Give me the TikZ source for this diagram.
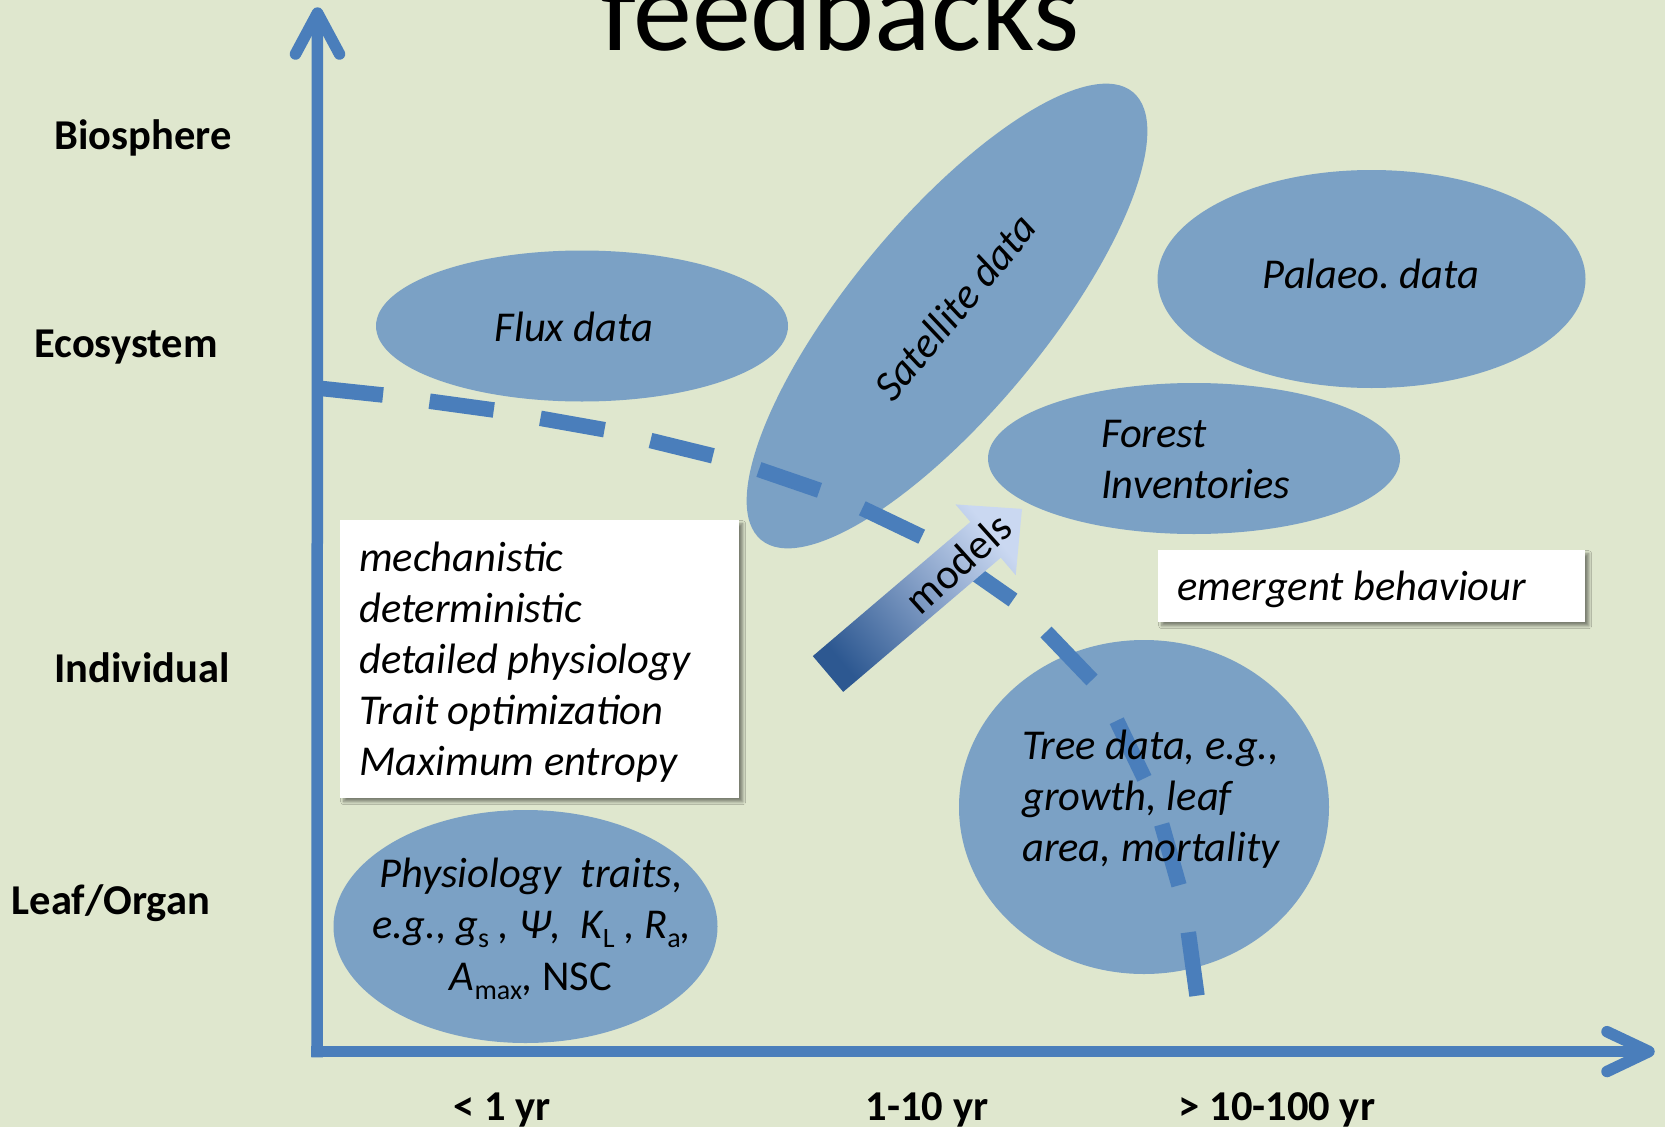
\documentclass[tikz,border=0pt]{standalone}
\usepackage{fontspec}
\setmainfont{Carlito}
\usetikzlibrary{shadows.blur}

\definecolor{bg}{RGB}{223,231,206}
\definecolor{blob}{RGB}{123,161,197}
\definecolor{axisblue}{RGB}{74,126,187}
\definecolor{arrowdark}{RGB}{45,88,145}
\definecolor{arrowlight}{RGB}{202,216,241}

% small upright index set below the baseline
\newcommand{\lowidx}[1]{\raisebox{-0.22em}{\upshape\fontsize{28}{28}\selectfont #1}}

\begin{document}
\frenchspacing
\begin{tikzpicture}[x=1pt,y=-1pt,
  axisline/.style={draw=axisblue, line width=11.5pt},
  axishead/.style={draw=axisblue, line width=11.5pt, line cap=round, line join=round},
  dashline/.style={draw=axisblue, line width=15.5pt},
  blobfill/.style={fill=blob},
  levellabel/.style={font=\fontsize{42.5}{42.5}\selectfont\bfseries, anchor=base, inner sep=0pt},
  blobtext/.style={font=\fontsize{42.5}{42.5}\selectfont\itshape, inner sep=0pt},
  notebox/.style={fill=white, draw=none, anchor=north west, inner sep=0pt,
    blur shadow={shadow xshift=3.5pt, shadow yshift=-3.5pt, shadow blur radius=3pt,
      shadow blur steps=6, shadow opacity=45}},
]
% canvas
\fill[bg] (0,0) rectangle (1665,1127);
\useasboundingbox (0,0) rectangle (1665,1127);
\clip (0,0) rectangle (1665,1127);

% title (partly cut by the top edge)
\node[font=\fontsize{118}{118}\selectfont, anchor=base, inner sep=0pt] (title) at (840,50) {feedbacks};

% data clouds
\fill[blobfill] (582,326) ellipse [x radius=206pt, y radius=75.5pt];
\fill[blobfill, rotate around={50.3:(947,316)}] (947,316) ellipse [x radius=291pt, y radius=97pt];
\fill[blobfill] (1371.5,279) ellipse [x radius=214pt, y radius=109pt];
\fill[blobfill] (1194,458.5) ellipse [x radius=206pt, y radius=75.5pt];
\fill[blobfill] (1144,807) ellipse [x radius=185pt, y radius=167pt];
\fill[blobfill] (525.5,926.5) ellipse [x radius=192pt, y radius=116.5pt];

% dashed boundary between approaches
\draw[dashline]
  (317,388) -- (383,395)
  (429.6,401.2) -- (493.8,410)
  (540.4,418.3) -- (604.5,429.7)
  (650.5,440.5) -- (712.9,455.8)
  (758.9,469.5) -- (819.5,490.3)
  (862.3,508.3) -- (921.7,536.7)
  (960,563) -- (1013,600)
  (1046,632) -- (1092,680)
  (1116.7,720.7) -- (1144.4,778.3)
  (1161.7,824.4) -- (1179,885.3)
  (1188.3,932.3) -- (1197,995.7);

% axes
\coordinate (origin) at (317,1051.5);
\coordinate (ybase) at (317,1057.3);
\coordinate (ytip) at (317.5,13);
\coordinate (xbase) at (311.3,1051.5);
\coordinate (xtip) at (1649,1051.5);
\draw[axisline] (ybase) -- (ytip);
\draw[axisline] (xbase) -- (xtip);
\draw[axishead] (295.5,54) -- (ytip) -- (339.5,54);
\draw[axishead] (1607,1031.7) -- (xtip) -- (1607,1071.5);

% texts in the clouds
\node[blobtext, anchor=base] (flux) at (574,341) {Flux data};
\node[blobtext, rotate=50.3] (sat) at (955,307) {Satellite data};
\node[blobtext, anchor=base] (palaeo) at (1371,288) {Palaeo. data};
\node[blobtext, anchor=base west] (forest1) at (1101,447) {Forest};
\node[blobtext, anchor=base west] (forest2) at (1101,498) {Inventories};
\node[blobtext, anchor=base west] (tree1) at (1022,759) {Tree data, e.g.,};
\node[blobtext, anchor=base west] (tree2) at (1022,810) {growth, leaf};
\node[blobtext, anchor=base west] (tree3) at (1022,861) {area, mortality};
\node[blobtext, anchor=base] (phys1) at (531,887) {Physiology\ \ traits,};
\node[blobtext, anchor=base] (phys2) at (532,938) {e.g., g\lowidx{s} , Ψ,\ \ K\lowidx{L} , R\lowidx{a},};
\node[blobtext, anchor=base] (phys3) at (531,990) {A\lowidx{max}, \upshape NSC};

% note boxes
\node[notebox, minimum width=399pt, minimum height=278pt] (mechbox) at (340,520) {};
\node[blobtext, anchor=base west] (mech1) at (359,571) {mechanistic};
\node[blobtext, anchor=base west] (mech2) at (359,622.2) {deterministic};
\node[blobtext, anchor=base west] (mech3) at (359,673.4) {detailed physiology};
\node[blobtext, anchor=base west] (mech4) at (359,724.6) {Trait optimization};
\node[blobtext, anchor=base west] (mech5) at (359,775.8) {Maximum entropy};

\node[notebox, minimum width=427pt, minimum height=72pt] (emergbox) at (1158,550) {};
\node[blobtext, anchor=base west] (emerg) at (1177,600) {emergent behaviour};

% models arrow
\shade[left color=arrowdark, right color=arrowlight, shading angle=130]
  (812.8,656.1) -- (970.4,521.9) -- (955.5,504.4) -- (1022,508.9)
  -- (1015.7,575.2) -- (1000.8,557.7) -- (843.2,691.9) -- cycle;
\node[font=\fontsize{42.5}{42.5}\selectfont, rotate=42, inner sep=0pt] (models) at (958,563) {models};

% level labels
\node[levellabel] (bio) at (143,149) {Biosphere};
\node[levellabel] (eco) at (126,357) {Ecosystem};
\node[levellabel] (ind) at (142,682) {Individual};
\node[levellabel] (leaf) at (111,914) {Leaf/Organ};

% time-scale labels
\node[levellabel] (t1) at (502,1120) {< 1 yr};
\node[levellabel] (t2) at (927,1120) {1-10 yr};
\node[levellabel] (t3) at (1277,1120) {> 10-100 yr};
\end{tikzpicture}
\end{document}
